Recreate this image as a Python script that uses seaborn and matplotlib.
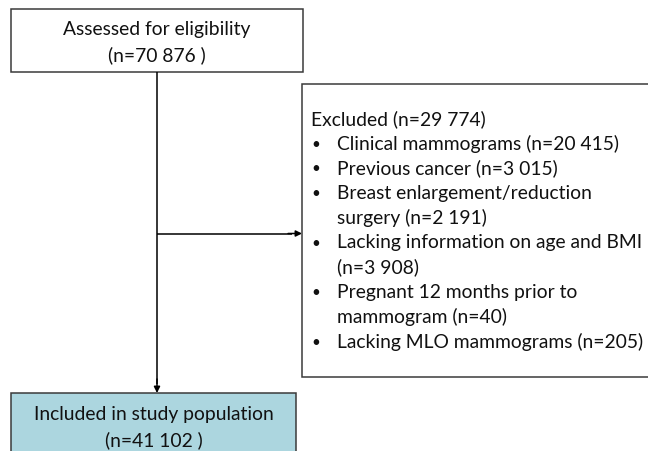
import matplotlib
matplotlib.use("Agg")
import matplotlib.pyplot as plt
import seaborn as sns
from matplotlib.patches import Rectangle

# ---- data ----
assessed_label = "Assessed for eligibility"
assessed_n = "70 876"
included_label = "Included in study population"
included_n = "41 102"
excluded_n = "29 774"
excluded_reasons = [
    "Clinical mammograms (n=20 415)",
    "Previous cancer (n=3 015)",
    "Breast enlargement/reduction\nsurgery (n=2 191)",
    "Lacking information on age and BMI\n(n=3 908)",
    "Pregnant 12 months prior to\nmammogram (n=40)",
    "Lacking MLO mammograms (n=205)",
]

sns.set_theme(style="white")
plt.rcParams['font.family'] = ['Lato', 'DejaVu Sans']

W, H = 648, 452
fig = plt.figure(figsize=(W / 100, H / 100), dpi=100)
ax = fig.add_axes([0, 0, 1, 1])
ax.set_xlim(0, W)
ax.set_ylim(H, 0)
ax.axis("off")

edge = "#3a3a3a"
lw = 1.1
fs = 13.9
tc = "#111111"

# top box
ax.add_patch(Rectangle((11, 10), 292, 63, facecolor="white", edgecolor=edge, lw=lw))
ax.text(157, 30, assessed_label, ha="center", va="center", fontsize=fs, color=tc)
ax.text(157, 55, f"(n={assessed_n} )", ha="center", va="center", fontsize=fs, color=tc)

# bottom box
ax.add_patch(Rectangle((11, 394), 285, 80, facecolor="#acd6df", edgecolor=edge, lw=lw))
ax.text(153.5, 415, included_label, ha="center", va="center", fontsize=fs, color=tc)
ax.text(153.5, 440, f"(n={included_n} )", ha="center", va="center", fontsize=fs, color=tc)

# excluded box
ax.add_patch(Rectangle((302, 85), 400, 293, facecolor="white", edgecolor=edge, lw=lw))

# connectors
ax.plot([157, 157], [73, 385], color="black", lw=1.1, solid_capstyle="butt")
ax.annotate("", xy=(157, 394), xytext=(157, 380),
            arrowprops=dict(arrowstyle="-|>", color="black", lw=1.1, mutation_scale=9,
                            shrinkA=0, shrinkB=0))
ax.plot([157, 292], [234.5, 234.5], color="black", lw=1.1, solid_capstyle="butt")
ax.annotate("", xy=(302, 234.5), xytext=(288, 234.5),
            arrowprops=dict(arrowstyle="-|>", color="black", lw=1.1, mutation_scale=9,
                            shrinkA=0, shrinkB=0))

# excluded text
y0, step = 119, 24.75
ax.text(311, y0, f"Excluded (n={excluded_n})", ha="left", va="center", fontsize=fs, color=tc)
line = 1
for reason in excluded_reasons:
    parts = reason.split("\n")
    ax.text(316, y0 + line * step + 1, "•", ha="center", va="center", fontsize=11, color=tc)
    for p in parts:
        ax.text(337, y0 + line * step, p, ha="left", va="center", fontsize=fs, color=tc)
        line += 1

fig.savefig("out.png", dpi=100)
